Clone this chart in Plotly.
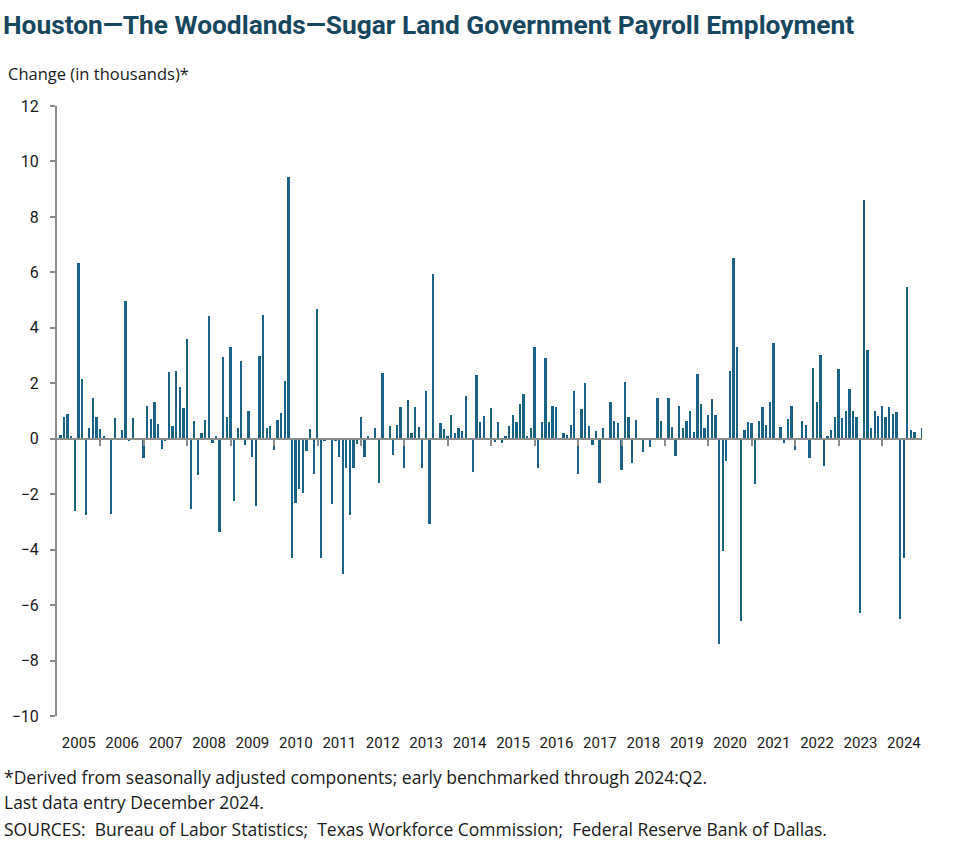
import plotly.graph_objects as go

years = [str(y) for y in range(2005, 2025)]

# Monthly change (thousands), Jan..Dec of each year
v2005 = [0.00, 0.14, 0.77, 0.91, 0.11, -2.61, 6.34, 2.17, -2.76, 0.40, 1.47, 0.77]
v2006 = [0.34, 0.09, 0.00, -2.73, 0.73, 0.00, 0.30, 4.96, -0.09, 0.73, 0.00, 0.00]
v2007 = [-0.71, 1.17, 0.70, 1.31, 0.53, -0.36, -0.09, 2.40, 0.47, 2.43, 1.86, 1.10]
v2008 = [3.60, -2.54, 0.63, -1.31, 0.20, 0.67, 4.41, -0.16, 0.11, -3.36, 2.94, 0.77]
v2009 = [3.30, -2.23, 0.37, 2.80, -0.24, 1.01, -0.67, -2.44, 2.97, 4.46, 0.40, 0.46]
v2010 = [-0.39, 0.66, 0.94, 2.07, 9.44, -4.29, -2.30, -1.83, -1.97, -0.43, 0.34, -1.26]
v2011 = [4.67, -4.29, -0.07, 0.00, -2.37, -0.07, -0.67, -4.87, -1.04, -2.76, -1.07, -0.20]
v2012 = [0.77, -0.67, 0.09, 0.00, 0.37, -1.61, 2.37, 0.00, 0.46, -0.60, 0.49, 1.14]
v2013 = [-1.07, 1.39, 0.20, 1.14, 0.41, -1.07, 1.71, -3.09, 5.94, 0.00, 0.56, 0.34]
v2014 = [0.09, 0.84, 0.19, 0.37, 0.27, 1.53, 0.00, -1.21, 2.30, 0.60, 0.81, 0.00]
v2015 = [1.10, -0.10, 0.59, -0.16, 0.11, 0.47, 0.87, 0.61, 1.24, 1.60, 0.11, 0.40]
v2016 = [3.30, -1.04, 0.59, 2.90, 0.61, 1.17, 1.14, 0.00, 0.19, 0.14, 0.50, 1.71]
v2017 = [-1.26, 1.06, 2.00, 0.47, -0.24, 0.27, -1.61, 0.40, 0.00, 1.31, 0.63, 0.57]
v2018 = [-1.14, 2.03, 0.77, -0.86, 0.66, 0.00, -0.49, 0.00, -0.29, 0.00, 1.46, 0.63]
v2019 = [0.00, 1.46, 0.44, -0.63, 1.17, 0.40, 0.63, 1.01, 0.26, 2.33, 1.24, 0.40]
v2020 = [0.87, 1.43, 0.84, -7.40, -4.04, -0.81, 2.43, 6.51, 3.30, -6.57, 0.30, 0.59]
v2021 = [0.56, -1.64, 0.63, 1.14, 0.49, 1.34, 3.47, 0.00, 0.44, -0.16, 0.70, 1.17]
v2022 = [-0.39, 0.00, 0.63, 0.51, -0.71, 2.54, 1.34, 3.01, -1.00, 0.09, 0.30, 0.77]
v2023 = [2.51, 0.73, 0.99, 1.79, 1.01, 0.77, -6.29, 8.61, 3.19, 0.37, 0.99, 0.81]
v2024 = [1.17, 0.77, 1.14, 0.91, 0.96, -6.51, -4.29, 5.47, 0.30, 0.23, 0.00, 0.37]

yearly = [v2005, v2006, v2007, v2008, v2009, v2010, v2011, v2012, v2013, v2014,
          v2015, v2016, v2017, v2018, v2019, v2020, v2021, v2022, v2023, v2024]
values = [v for yr in yearly for v in yr]
months = list(range(len(values)))

y_ticks = list(range(-10, 13, 2))

TITLE = "Houston\u2014The Woodlands\u2014Sugar Land Government Payroll Employment"
YLABEL = "Change (in thousands)*"
NOTE1 = "*Derived from seasonally adjusted components; early benchmarked through 2024:Q2."
NOTE2 = "Last data entry December 2024."
NOTE3 = ("SOURCES:\u00a0 Bureau of Labor Statistics;\u00a0 Texas Workforce Commission;"
         "\u00a0 Federal Reserve Bank of Dallas.")

BAR = "#1b6287"
AXIS = "#8c8c8c"
TXT = "#1a1a1a"
FONT = "Roboto"
NFONT = "Open Sans"

fig = go.Figure()
fig.add_trace(go.Bar(x=months, y=values, width=0.5,
                     marker=dict(color=BAR, line=dict(width=0)),
                     hoverinfo="x+y", showlegend=False))
# helper trace to carry the zero-line category axis
fig.add_trace(go.Scatter(x=[months[0], months[-1]], y=[0, 0], xaxis="x2",
                         mode="lines", line=dict(width=0), hoverinfo="skip",
                         showlegend=False))

n = len(values)
fig.update_layout(
    width=977, height=864,
    margin=dict(l=57, r=55, t=106, b=148),
    paper_bgcolor="white", plot_bgcolor="white",
    font=dict(family=FONT, color=TXT),
    title=dict(text="<b>" + TITLE + "</b>", xref="container", yref="container",
               x=3 / 977, y=1 - 25 / 864, xanchor="left", yanchor="middle",
               font=dict(size=26.3, color="#17475f", family=FONT)),
    xaxis=dict(range=[0, n - 1], tickmode="array",
               tickvals=[12 * k + 6 for k in range(len(years))], ticktext=years,
               ticks="", showline=False, showgrid=False, zeroline=False,
               ticklabelstandoff=16, tickfont=dict(size=15, color=TXT)),
    xaxis2=dict(range=[0, n - 1], overlaying="x", anchor="free",
                position=10 / 22, side="bottom", showline=True, linecolor=AXIS,
                linewidth=2, tickmode="array",
                tickvals=[12 * k for k in range(1, len(years))],
                ticks="outside", ticklen=6, tickwidth=2, tickcolor=AXIS,
                showticklabels=False, showgrid=False, zeroline=False),
    yaxis=dict(range=[-10, 12], tickmode="array", tickvals=y_ticks,
               showline=True, linecolor=AXIS, linewidth=2,
               ticks="outside", ticklen=5, tickwidth=2, tickcolor=AXIS,
               showgrid=False, zeroline=False, ticklabelstandoff=8,
               tickfont=dict(size=16, color=TXT)),
    bargap=0,
)

def note(text, py, size=17.5):
    fig.add_annotation(text=text, xref="paper", yref="paper",
                       x=(2 - 57) / 865, y=(716 - py) / 610,
                       xanchor="left", yanchor="middle", showarrow=False,
                       font=dict(size=size, color=TXT, family=NFONT))

fig.add_annotation(text=YLABEL, xref="paper", yref="paper",
                   x=(6 - 57) / 865, y=(716 - 73) / 610, xanchor="left",
                   yanchor="middle", showarrow=False,
                   font=dict(size=16.5, color=TXT, family=NFONT))
note(NOTE1, 777)
note(NOTE2, 802)
note(NOTE3, 829)

fig.write_html("out.html")
